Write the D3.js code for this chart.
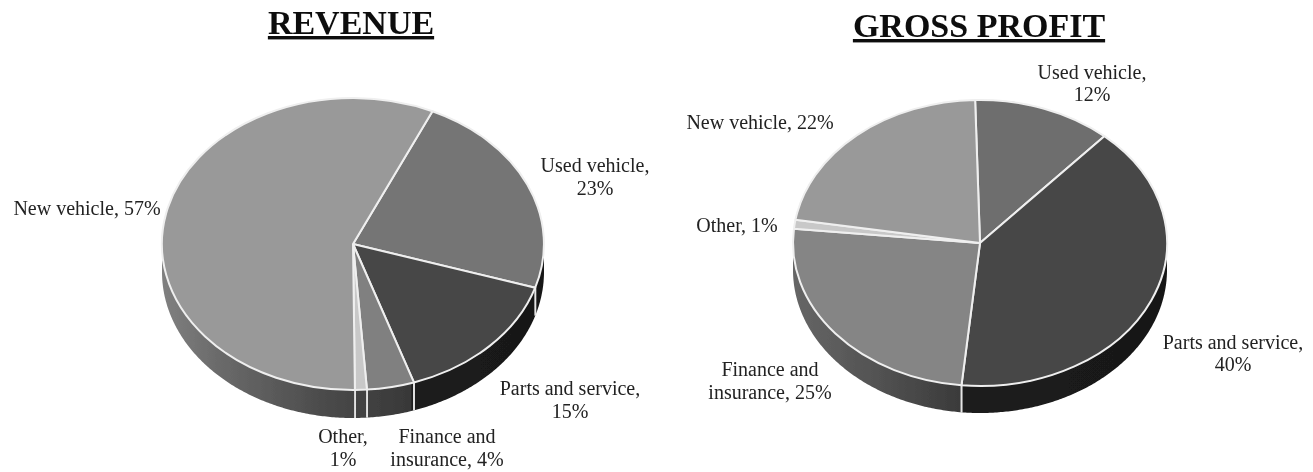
<!DOCTYPE html>
<html><head><meta charset="utf-8">
<script src="https://cdn.jsdelivr.net/npm/d3@7"></script>
<style>html,body{margin:0;padding:0;background:#fff;overflow:hidden}svg{display:block}
text{font-family:"Liberation Serif",serif;fill:#222;text-anchor:middle}</style></head>
<body><svg id="c" width="1313" height="472"></svg>
<script>
const revenueCategories = ["Used vehicle","Parts and service","Finance and insurance","Other","New vehicle"];
const revenueValues = [23,15,4,1,57];
const revenueColors = ["#757575","#474747","#808080","#c8c8c8","#999999"];
const grossCategories = ["Used vehicle","Parts and service","Finance and insurance","Other","New vehicle"];
const grossValues = [12,40,25,1,22];
const grossColors = ["#6e6e6e","#474747","#858585","#c8c8c8","#999999"];
const revenueLabels = [
  [["Used vehicle,",595,172],["23%",595,195]],
  [["Parts and service,",570,395],["15%",570,418]],
  [["Finance and",447,443],["insurance, 4%",447,466]],
  [["Other,",343,443],["1%",343,466]],
  [["New vehicle, 57%",87,215]]
];
const grossLabels = [
  [["Used vehicle,",1092,79],["12%",1092,101]],
  [["Parts and service,",1233,349],["40%",1233,371]],
  [["Finance and",770,376],["insurance, 25%",770,399]],
  [["Other, 1%",737,232]],
  [["New vehicle, 22%",760,129]]
];
const titles = [["REVENUE",351,34],["GROSS PROFIT",979,37]];
const svg = d3.select("#c");
const defs = svg.append("defs");
defs.append("filter").attr("id","soft").attr("x","-5%").attr("y","-5%").attr("width","110%").attr("height","110%")
  .append("feGaussianBlur").attr("stdDeviation",0.55);
const root = svg.append("g").attr("filter","url(#soft)");

function wallGrad(id, stops, x0, x1){
  const g = defs.append("linearGradient").attr("id",id).attr("gradientUnits","userSpaceOnUse")
    .attr("x1",x0).attr("x2",x1).attr("y1",0).attr("y2",0);
  stops.forEach(s=>g.append("stop").attr("offset",s[0]).attr("stop-color",s[1]));
}
function drawPie(o){
  const {cx,cy,rx,ry,depth,start,values,colors,id,wallStops} = o;
  const toRad = d=>d*Math.PI/180;
  const arcs = d3.pie().sort(null).startAngle(toRad(start)).endAngle(toRad(start+360))(values);
  const sx = d3.scaleLinear().domain([-1,1]).range([cx-rx,cx+rx]);
  const sy = d3.scaleLinear().domain([-1,1]).range([cy-ry,cy+ry]);
  wallGrad("w"+id, wallStops, cx-rx, cx+rx);
  const line = d3.line();
  const lo = Math.PI/2, hi = 3*Math.PI/2;
  const g = root.append("g");
  arcs.forEach(d=>{
    const a0 = Math.max(d.startAngle, lo), a1 = Math.min(d.endAngle, hi);
    if(a1<=a0) return;
    const ts = d3.range(a0,a1,0.01).concat([a1]);
    const top = ts.map(t=>[sx(Math.sin(t)),sy(-Math.cos(t))]);
    const bot = ts.slice().reverse().map(t=>[sx(Math.sin(t)),sy(-Math.cos(t))+depth]);
    g.append("path").attr("d",line(top.concat(bot))+"Z").attr("fill","url(#w"+id+")");
    [a0,a1].forEach(t=>{
      if(t<=lo+1e-6||t>=hi-1e-6) return;
      g.append("line").attr("x1",sx(Math.sin(t))).attr("x2",sx(Math.sin(t)))
        .attr("y1",sy(-Math.cos(t))).attr("y2",sy(-Math.cos(t))+depth)
        .attr("stroke","#e4e4e4").attr("stroke-width",1.8);
    });
  });
  const arc = d3.arc().innerRadius(0).outerRadius(1);
  g.append("g").attr("transform",`translate(${cx},${cy}) scale(${rx},${ry})`)
    .selectAll("path").data(arcs).join("path")
    .attr("d",arc)
    .attr("fill",(d,i)=>colors[i])
    .attr("stroke","#efefef").attr("stroke-width",2)
    .attr("stroke-linejoin","round")
    .attr("vector-effect","non-scaling-stroke");
}
drawPie({id:"r",cx:353,cy:244,rx:191,ry:146,depth:28,start:24.6,values:revenueValues,colors:revenueColors,
  wallStops:[[0,"#808080"],[0.15,"#6a6a6a"],[0.45,"#484848"],[0.652,"#383838"],[0.654,"#1c1c1c"],[1,"#181818"]]});
drawPie({id:"g",cx:980,cy:243,rx:187,ry:143,depth:27,start:-1.5,values:grossValues,colors:grossColors,
  wallStops:[[0,"#666666"],[0.25,"#505050"],[0.45,"#3a3a3a"],[0.452,"#1c1c1c"],[1,"#181818"]]});

function drawLabels(ls){
  root.append("g").selectAll("text").data(ls.flat()).join("text")
    .attr("x",d=>d[1]).attr("y",d=>d[2])
    .attr("font-size",20).text(d=>d[0]);
}
drawLabels(revenueLabels); drawLabels(grossLabels);
root.append("g").selectAll("text").data(titles).join("text")
  .attr("x",d=>d[1]).attr("y",d=>d[2])
  .attr("font-size",34).attr("font-weight","bold")
  .style("text-decoration","underline").style("text-decoration-thickness","3.5px").style("text-underline-offset","5px")
  .style("fill","#111").text(d=>d[0]);
</script></body></html>
